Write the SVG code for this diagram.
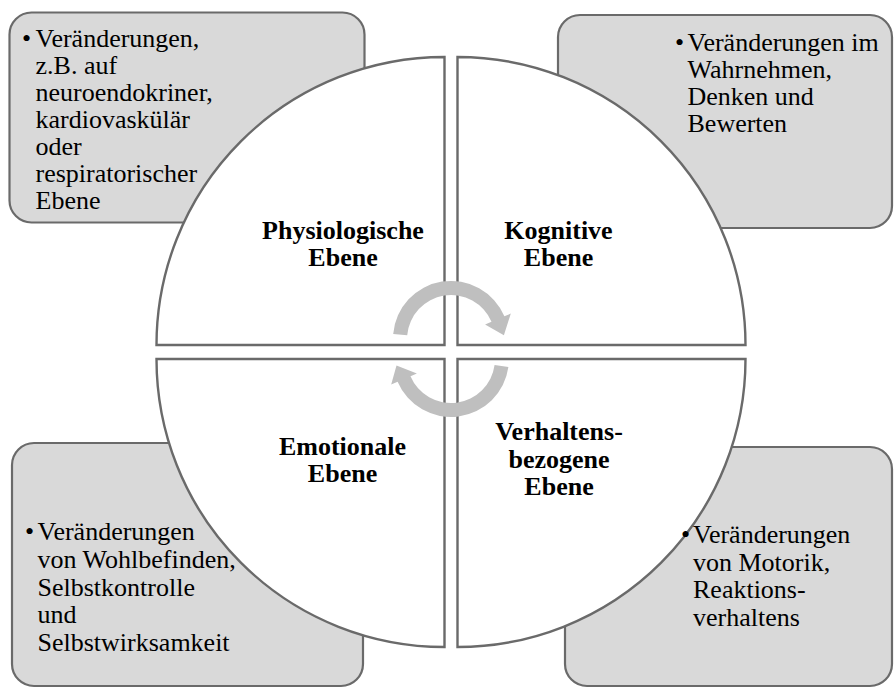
<svg xmlns="http://www.w3.org/2000/svg" width="894" height="688" viewBox="0 0 894 688">
  <style>
    .box { fill: #d9d9d9; stroke: #6a6a6a; stroke-width: 2.2; }
    .quad { fill: #ffffff; stroke: #6a6a6a; stroke-width: 2.4; }
    .arrow { fill: #bfbfbf; stroke: none; }
    .lbl { font-family: "Liberation Serif", "Times New Roman", serif; font-weight: bold; font-size: 26px; fill: #000; text-anchor: middle; }
    .txt { font-family: "Liberation Serif", "Times New Roman", serif; font-size: 26px; fill: #000; }
  </style>
  <rect width="894" height="688" fill="#ffffff"/>

  <g id="box-physio"><rect class="box" x="9.5" y="12.5" width="355" height="210" rx="22"/></g>
  <g id="box-kognitiv"><rect class="box" x="558" y="15" width="334" height="213" rx="22"/></g>
  <g id="box-emotional"><rect class="box" x="12" y="443" width="351" height="243" rx="22"/></g>
  <g id="box-verhalten"><rect class="box" x="565" y="447" width="327" height="239" rx="22"/></g>

  <g id="quad-physio"><path class="quad" d="M444.5,345 L156.5,345 A288,288 0 0 1 444.5,57 Z"/></g>
  <g id="quad-kognitiv"><path class="quad" d="M457.5,345 L457.5,57 A288,288 0 0 1 745.5,345 Z"/></g>
  <g id="quad-emotional"><path class="quad" d="M444.5,359 L444.5,647 A288,288 0 0 1 156.5,359 Z"/></g>
  <g id="quad-verhalten"><path class="quad" d="M457.5,359 L745.5,359 A288,288 0 0 1 457.5,647 Z"/></g>

  <g id="connectors">
    <path class="arrow" d="M393.2,333.9 A58,58 0 0 1 504.4,316.3 L510.8,313.6 L503.9,335.3 L485.1,324.5 L491.5,321.8 A44,44 0 0 0 407.2,335.2 Z"/>
    <path class="arrow" d="M508.4,367.1 A58,58 0 0 1 397.6,381.7 L391.2,384.4 L396.5,365.5 L416.9,373.5 L410.5,376.2 A44,44 0 0 0 494.6,365.1 Z"/>
  </g>

  <g id="labels">
    <text class="lbl" x="343" y="239">Physiologische</text>
    <text class="lbl" x="343" y="266">Ebene</text>
    <text class="lbl" x="558.5" y="239">Kognitive</text>
    <text class="lbl" x="558.5" y="266">Ebene</text>
    <text class="lbl" x="342.5" y="455">Emotionale</text>
    <text class="lbl" x="342.5" y="482">Ebene</text>
    <text class="lbl" x="559" y="440">Verhaltens-</text>
    <text class="lbl" x="559" y="467.5">bezogene</text>
    <text class="lbl" x="559" y="495">Ebene</text>
  </g>

  <g id="text-physio" class="txt">
    <text x="22" y="47">•</text>
    <text x="35.5" y="47">Veränderungen,</text>
    <text x="35.5" y="74">z.B. auf</text>
    <text x="35.5" y="101">neuroendokriner,</text>
    <text x="35.5" y="128">kardiovaskülär</text>
    <text x="35.5" y="155">oder</text>
    <text x="35.5" y="182">respiratorischer</text>
    <text x="35.5" y="209">Ebene</text>
  </g>
  <g id="text-kognitiv" class="txt">
    <text x="675" y="51">•</text>
    <text x="687.5" y="51">Veränderungen im</text>
    <text x="687.5" y="78">Wahrnehmen,</text>
    <text x="687.5" y="105">Denken und</text>
    <text x="687.5" y="132">Bewerten</text>
  </g>
  <g id="text-emotional" class="txt">
    <text x="25" y="540">•</text>
    <text x="37.5" y="540">Veränderungen</text>
    <text x="37.5" y="568">von Wohlbefinden,</text>
    <text x="37.5" y="595.5">Selbstkontrolle</text>
    <text x="37.5" y="623">und</text>
    <text x="37.5" y="651">Selbstwirksamkeit</text>
  </g>
  <g id="text-verhalten" class="txt">
    <text x="681" y="543">•</text>
    <text x="693" y="543">Veränderungen</text>
    <text x="693" y="570.5">von Motorik,</text>
    <text x="693" y="598">Reaktions-</text>
    <text x="693" y="625.5">verhaltens</text>
  </g>
</svg>
